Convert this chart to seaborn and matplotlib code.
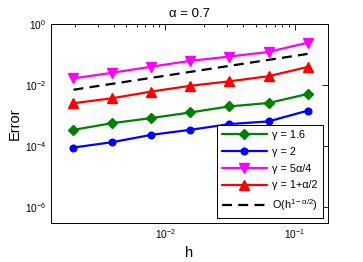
import matplotlib
matplotlib.use("Agg")
import matplotlib.pyplot as plt
import matplotlib.ticker as mticker
import numpy as np
import pandas as pd
import seaborn as sns

# ---- data ----
h = [1/512, 1/256, 1/128, 1/64, 1/32, 1/16, 1/8]
err_g16 = [3.5e-4, 5.8e-4, 8.5e-4, 1.3e-3, 2.05e-3, 2.65e-3, 5.2e-3]
err_g2 = [9.2e-5, 1.38e-4, 2.4e-4, 3.5e-4, 5.4e-4, 6.6e-4, 1.48e-3]
err_g5a4 = [0.017, 0.026, 0.041, 0.064, 0.088, 0.125, 0.25]
err_g1a2 = [0.0026, 0.0038, 0.0063, 0.0097, 0.0136, 0.020, 0.040]
ref_line = [0.0072, 0.0113, 0.0177, 0.0278, 0.0437, 0.0685, 0.1075]

labels = ["γ = 1.6", "γ = 2", "γ = 5α/4", "γ = 1+α/2", r"O(h$^{1-\alpha/2}$)"]
colors = ["#008000", "#0000ff", "#ff00ff", "#ff0000", "#000000"]
markers = ["D", "o", "v", "^", None]
msizes = [4.6, 4.8, 6.5, 6.5, 0]
title = "α = 0.7"
xlabel = "h"
ylabel = "Error"
yticks = [1e-6, 1e-4, 1e-2, 1e0]

sns.set_style("white")
plt.rcParams["font.family"] = ["Liberation Sans", "DejaVu Sans"]
plt.rcParams["mathtext.default"] = "regular"
plt.rcParams["text.color"] = "black"
plt.rcParams["axes.labelcolor"] = "black"

fig = plt.figure(figsize=(3.63, 2.62), dpi=100)
ax = fig.add_axes([0.1405, 0.150, 0.7623, 0.757])

series = [err_g16, err_g2, err_g5a4, err_g1a2, ref_line]
for vals, lab, c, m, ms in zip(series, labels, colors, markers, msizes):
    df = pd.DataFrame({"h": h, "err": vals})
    if m is None:
        sns.lineplot(data=df, x="h", y="err", ax=ax, color=c, linewidth=1.6,
                     label=lab, dashes=False, linestyle=(0, (4.5, 2.8)))
    else:
        sns.lineplot(data=df, x="h", y="err", ax=ax, color=c, linewidth=1.6,
                     marker=m, markersize=ms, markeredgecolor=c,
                     markeredgewidth=1.0, label=lab)

ax.set_xscale("log")
ax.set_yscale("log")
ax.set_xlim(1.31e-3, 0.179)
ax.set_ylim(10 ** -6.5, 1.0)

ax.yaxis.set_major_locator(mticker.FixedLocator(yticks))
ax.yaxis.set_minor_locator(mticker.NullLocator())
ax.yaxis.set_major_formatter(mticker.LogFormatterMathtext())
ax.xaxis.set_major_locator(mticker.LogLocator(base=10, numticks=10))
ax.xaxis.set_minor_locator(mticker.LogLocator(base=10, subs=np.arange(2, 10), numticks=20))
ax.xaxis.set_major_formatter(mticker.LogFormatterMathtext())

ax.tick_params(which="both", direction="in", top=True, right=True,
               labelsize=7.3, width=0.6, colors="black")
ax.tick_params(which="major", length=4)
ax.tick_params(which="minor", length=2.2)
for s in ax.spines.values():
    s.set_visible(True)
    s.set_color("black")
    s.set_linewidth(0.7)

ax.set_title(title, fontsize=9.5, pad=5, color="black")
ax.set_xlabel(xlabel, fontsize=10.5, labelpad=3)
ax.set_ylabel(ylabel, fontsize=10.5, labelpad=2)

leg = ax.legend(loc="lower right", fontsize=7.8, frameon=True, fancybox=False,
                edgecolor="black", framealpha=1, handlelength=4.2,
                handletextpad=0.45, borderpad=0.45, labelspacing=0.62,
                borderaxespad=0.45)
leg.get_frame().set_linewidth(0.7)
for t in leg.get_texts():
    t.set_color("black")

fig.savefig("out.png", dpi=100)
